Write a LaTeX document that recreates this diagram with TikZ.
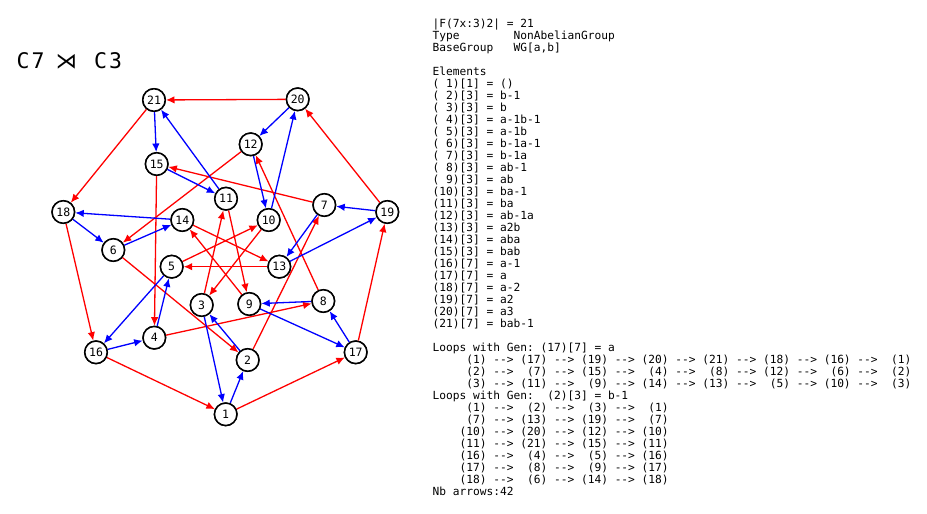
\documentclass[tikz,border=0pt]{standalone}
\usepackage{fontspec}
\setmonofont{DejaVu Sans Mono}
\newfontfamily\symfont{DejaVu Sans}
\usetikzlibrary{arrows.meta}
\definecolor{ered}{RGB}{255,0,0}
\definecolor{eblue}{RGB}{0,0,255}
\begin{document}
\begin{tikzpicture}[x=1pt,y=-1pt,
  vtx/.style={circle,draw=black,line width=1.5pt,fill=white,minimum size=22.5pt,inner sep=0pt,font=\ttfamily\fontsize{11.5}{11.5}\selectfont},
  ra/.style={draw=ered,line width=1.3pt,-{Latex[length=8.5pt,width=7.5pt]}},
  ba/.style={draw=eblue,line width=1.3pt,-{Latex[length=8.5pt,width=7.5pt]}},
  txt/.style={inner sep=0pt,anchor=base west,font=\ttfamily\fontsize{11.2}{12}\selectfont}]
\useasboundingbox (0,0) rectangle (927,514);
% title
\node[inner sep=0pt,anchor=base west,font=\ttfamily\fontsize{21.5}{21.5}\selectfont] (title) at (16.5,68.3)
  {C\kern2pt 7\hspace{11pt}{\symfont ⋊}\hspace{17pt}C\kern2pt 3};
% vertices
\foreach \n/\x/\y in {1/225.7/414.3, 2/247.7/360, 3/201.7/305, 4/154.3/337.7, 5/171.7/266.7,
  6/113.3/250, 7/324.3/205, 8/323.3/301, 9/249.3/304, 10/268.7/220, 11/226/198.7,
  12/250.7/144.3, 13/279.3/266.7, 14/182.3/220, 15/156.7/164, 16/96/352.3,
  17/355.7/352.3, 18/63.3/212, 19/387.3/212, 20/297.7/99.3, 21/154/100}
  \node[vtx] (v\n) at (\x,\y) {\n};
% red edges (generator a)
\foreach \a/\b in {1/17,17/19,19/20,20/21,21/18,18/16,16/1,
  2/7,7/15,15/4,4/8,8/12,12/6,6/2,
  3/11,11/9,9/14,14/13,13/5,5/10,10/3}
  \draw[ra] (v\a) -- (v\b);
% blue edges (generator b-1)
\foreach \a/\b in {1/2,2/3,3/1, 7/13,13/19,19/7, 10/20,20/12,12/10,
  11/21,21/15,15/11, 16/4,4/5,5/16, 17/8,8/9,9/17, 18/6,6/14,14/18}
  \draw[ba] (v\a) -- (v\b);
% redraw vertices on top
\foreach \n in {1,...,21} \node[vtx] at (v\n) {\n};
% text block
\foreach \t [count=\i from 0] in {
  {|F(7x:3)2|~=~21},
  {Type~~~~~~~~NonAbelianGroup},
  {BaseGroup~~~WG[a,b]},
  {},
  {Elements},
  {(~1)[1]~=~()},
  {(~2)[3]~=~b-1},
  {(~3)[3]~=~b},
  {(~4)[3]~=~a-1b-1},
  {(~5)[3]~=~a-1b},
  {(~6)[3]~=~b-1a-1},
  {(~7)[3]~=~b-1a},
  {(~8)[3]~=~ab-1},
  {(~9)[3]~=~ab},
  {(10)[3]~=~ba-1},
  {(11)[3]~=~ba},
  {(12)[3]~=~ab-1a},
  {(13)[3]~=~a2b},
  {(14)[3]~=~aba},
  {(15)[3]~=~bab},
  {(16)[7]~=~a-1},
  {(17)[7]~=~a},
  {(18)[7]~=~a-2},
  {(19)[7]~=~a2},
  {(20)[7]~=~a3},
  {(21)[7]~=~bab-1},
  {},
  {Loops~with~Gen:~(17)[7]~=~a},
  {~~~~~(1)~-{}->~(17)~-{}->~(19)~-{}->~(20)~-{}->~(21)~-{}->~(18)~-{}->~(16)~-{}->~~(1)},
  {~~~~~(2)~-{}->~~(7)~-{}->~(15)~-{}->~~(4)~-{}->~~(8)~-{}->~(12)~-{}->~~(6)~-{}->~~(2)},
  {~~~~~(3)~-{}->~(11)~-{}->~~(9)~-{}->~(14)~-{}->~(13)~-{}->~~(5)~-{}->~(10)~-{}->~~(3)},
  {Loops~with~Gen:~~(2)[3]~=~b-1},
  {~~~~~(1)~-{}->~~(2)~-{}->~~(3)~-{}->~~(1)},
  {~~~~~(7)~-{}->~(13)~-{}->~(19)~-{}->~~(7)},
  {~~~~(10)~-{}->~(20)~-{}->~(12)~-{}->~(10)},
  {~~~~(11)~-{}->~(21)~-{}->~(15)~-{}->~(11)},
  {~~~~(16)~-{}->~~(4)~-{}->~~(5)~-{}->~(16)},
  {~~~~(17)~-{}->~~(8)~-{}->~~(9)~-{}->~(17)},
  {~~~~(18)~-{}->~~(6)~-{}->~(14)~-{}->~(18)},
  {Nb~arrows:42}}
  \node[txt] (l\i) at (432.5,{27.5+12*\i}) {\t};
\end{tikzpicture}
\end{document}
